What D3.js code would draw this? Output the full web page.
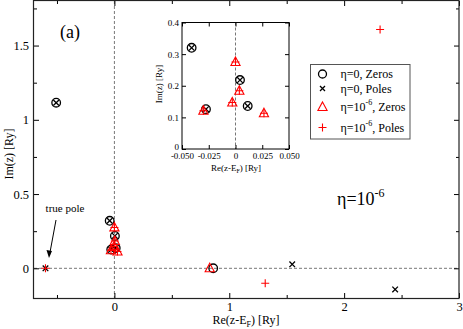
<!DOCTYPE html>
<html>
<head>
<meta charset="utf-8">
<script src="https://cdn.jsdelivr.net/npm/d3@7"></script>
<style>
  body { margin: 0; background: #fff; }
  text { font-family: "Liberation Serif", "DejaVu Serif", serif; fill: #000; }
</style>
</head>
<body>
<div id="chart"></div>
<script>
// eta=0 zeros (circles) and poles (x), eta=1e-6 zeros (triangles) and poles (+)
var zeros0 = [[-0.507, 1.115], [-0.041, 0.32], [-0.0276, 0.126], [0.0042, 0.218], [0.0114, 0.136], [0.86, 0]];
var poles0 = [[-0.507, 1.115], [-0.041, 0.32], [-0.0276, 0.126], [0.0042, 0.218], [0.0114, 0.136],
              [-0.6, 0], [1.548, 0.027], [2.444, -0.142]];
var zeros6 = [[0, 0.275], [0.0036, 0.184], [-0.003, 0.147], [-0.030, 0.121], [0.0266, 0.113], [0.83, 0]];
var poles6 = [[0, 0.275], [0.0036, 0.184], [-0.003, 0.147], [-0.030, 0.121], [0.0266, 0.113],
              [-0.6, 0], [1.313, -0.101], [2.313, 1.608]];

var xMajor = [0, 1, 2, 3], xMinor = [-0.5, 0.5, 1.5, 2.5];
var yMajor = [0, 0.5, 1, 1.5], yMinor = [0.25, 0.75, 1.25, 1.75];
var ixTicks = [-0.05, -0.025, 0, 0.025, 0.05];
var ixLabels = ["-0.050", "-0.025", "0", "0.025", "0.050"];
var iyTicks = [0, 0.1, 0.2, 0.3, 0.4];
var legendLabels = [["η=0, Zeros", ""], ["η=0, Poles", ""], ["η=10", "-6", ", Zeros"], ["η=10", "-6", ", Poles"]];

var width = 463, height = 329;
var svg = d3.select("#chart").append("svg")
    .attr("width", width)
    .attr("height", height);

var red = "#ff0000";

function crossPath(s) { return "M" + (-s) + "," + (-s) + "L" + s + "," + s + "M" + (-s) + "," + s + "L" + s + "," + (-s); }
function plusPath(s) { return "M" + (-s) + ",0L" + s + ",0M0," + (-s) + "L0," + s; }
function triPath(s) { return "M0," + (-s * 1.1) + "L" + s + "," + (s * 0.75) + "L" + (-s) + "," + (s * 0.75) + "Z"; }

function drawMarks(g, x, y, opt) {
  g.selectAll(".z0").data(zeros0.filter(opt.keep)).enter().append("circle")
      .attr("cx", d => x(d[0])).attr("cy", d => y(d[1])).attr("r", 4.3)
      .attr("fill", "none").attr("stroke", "#000").attr("stroke-width", 1.3);
  g.selectAll(".p0").data(poles0.filter(opt.keep)).enter().append("path")
      .attr("transform", d => "translate(" + x(d[0]) + "," + y(d[1]) + ")")
      .attr("d", crossPath(2.8))
      .attr("fill", "none").attr("stroke", "#000").attr("stroke-width", 1.3);
  g.selectAll(".z6").data(zeros6.filter(opt.keep)).enter().append("path")
      .attr("transform", d => "translate(" + x(d[0]) + "," + y(d[1]) + ")")
      .attr("d", triPath(4.6))
      .attr("fill", "none").attr("stroke", red).attr("stroke-width", 1.1);
  g.selectAll(".p6").data(poles6.filter(opt.keep)).enter().append("path")
      .attr("transform", d => "translate(" + x(d[0]) + "," + y(d[1]) + ")")
      .attr("d", plusPath(4))
      .attr("fill", "none").attr("stroke", red).attr("stroke-width", 1.1);
}

function styleTicks(sel) {
  sel.select(".domain").remove();
  sel.attr("font-family", null);
  sel.selectAll("line").attr("stroke", "#000");
  sel.selectAll("text").attr("fill", "#000");
}

// ---- main plot
var x = d3.scaleLinear().domain([-0.7, 3]).range([34, 459]);
var y = d3.scaleLinear().domain([-0.2, 1.8]).range([298, 1]);

var main = svg.append("g");

// dashed zero lines
main.append("line").attr("x1", x(0)).attr("x2", x(0)).attr("y1", y(1.8)).attr("y2", y(-0.2))
    .attr("stroke", "#777").attr("stroke-dasharray", "3,2");
main.append("line").attr("x1", x(-0.7)).attr("x2", x(3)).attr("y1", y(0)).attr("y2", y(0))
    .attr("stroke", "#777").attr("stroke-dasharray", "3,2");

main.append("g").attr("transform", "translate(0,298)")
    .call(d3.axisBottom(x).tickValues(xMajor).tickSize(-5).tickSizeOuter(0).tickPadding(4).tickFormat(d3.format("d")))
    .call(styleTicks).selectAll("text").style("font-size", "12.5px");
main.append("g").attr("transform", "translate(0,298)")
    .call(d3.axisBottom(x).tickValues(xMinor).tickSize(-3).tickSizeOuter(0).tickFormat(""))
    .call(styleTicks);
main.append("g").attr("transform", "translate(0,1)")
    .call(d3.axisTop(x).tickValues(xMajor).tickSize(-5).tickSizeOuter(0).tickFormat(""))
    .call(styleTicks);
main.append("g").attr("transform", "translate(0,1)")
    .call(d3.axisTop(x).tickValues(xMinor).tickSize(-3).tickSizeOuter(0).tickFormat(""))
    .call(styleTicks);
main.append("g").attr("transform", "translate(34,0)")
    .call(d3.axisLeft(y).tickValues(yMajor).tickSize(-5).tickSizeOuter(0).tickPadding(5).tickFormat(d => d === 0 ? "0" : String(d)))
    .call(styleTicks).selectAll("text").style("font-size", "12.5px");
main.append("g").attr("transform", "translate(34,0)")
    .call(d3.axisLeft(y).tickValues(yMinor).tickSize(-3).tickSizeOuter(0).tickFormat(""))
    .call(styleTicks);
main.append("g").attr("transform", "translate(459,0)")
    .call(d3.axisRight(y).tickValues(yMajor).tickSize(-5).tickSizeOuter(0).tickFormat(""))
    .call(styleTicks);
main.append("g").attr("transform", "translate(459,0)")
    .call(d3.axisRight(y).tickValues(yMinor).tickSize(-3).tickSizeOuter(0).tickFormat(""))
    .call(styleTicks);

main.append("rect").attr("x", 33.5).attr("y", 0.5).attr("width", 425.5).attr("height", 298)
    .attr("fill", "none").attr("stroke", "#222").attr("stroke-width", 1.2);

drawMarks(main.append("g"), x, y, { keep: () => true });

// axis titles
var xt = main.append("text").attr("x", 246).attr("y", 324).attr("text-anchor", "middle").style("font-size", "12px");
xt.append("tspan").text("Re(z-E");
xt.append("tspan").attr("dy", 3).style("font-size", "8px").text("F");
xt.append("tspan").attr("dy", -3).text(") [Ry]");
main.append("text").attr("transform", "translate(13,154) rotate(-90)").attr("text-anchor", "middle")
    .style("font-size", "12px").text("Im(z) [Ry]");

main.append("text").attr("x", 60).attr("y", 38).style("font-size", "18px").text("(a)");

var et = main.append("text").attr("x", 337).attr("y", 205).style("font-size", "18px");
et.append("tspan").text("η=10");
et.append("tspan").attr("dy", -8).style("font-size", "12px").text("-6");

// true pole annotation
main.append("text").attr("x", 65).attr("y", 212).attr("text-anchor", "middle").style("font-size", "11px").text("true pole");
main.append("line").attr("x1", 56).attr("y1", 220).attr("x2", 49.5).attr("y2", 255)
    .attr("stroke", "#000").attr("stroke-width", 1);
main.append("path").attr("d", "M49,258L46.5,250L52,251Z").attr("fill", "#000");

// ---- inset
var xi = d3.scaleLinear().domain([-0.05, 0.05]).range([182, 289]);
var yi = d3.scaleLinear().domain([0, 0.4]).range([149, 22.5]);
var inset = svg.append("g");
inset.append("rect").attr("x", 182).attr("y", 22.5).attr("width", 107).attr("height", 126.5).attr("fill", "#fff");
inset.append("line").attr("x1", xi(0)).attr("x2", xi(0)).attr("y1", yi(0.4)).attr("y2", yi(0))
    .attr("stroke", "#777").attr("stroke-dasharray", "3,2");

inset.append("g").attr("transform", "translate(0,149)")
    .call(d3.axisBottom(xi).tickValues(ixTicks).tickSize(-4).tickSizeOuter(0).tickPadding(4).tickFormat((d, i) => ixLabels[i]))
    .call(styleTicks).selectAll("text").style("font-size", "9px");
inset.append("g").attr("transform", "translate(0,22.5)")
    .call(d3.axisTop(xi).tickValues(ixTicks).tickSize(-4).tickSizeOuter(0).tickFormat(""))
    .call(styleTicks);
inset.append("g").attr("transform", "translate(182,0)")
    .call(d3.axisLeft(yi).tickValues(iyTicks).tickSize(-4).tickSizeOuter(0).tickPadding(3).tickFormat(d => d === 0 ? "0" : d3.format(".1f")(d)))
    .call(styleTicks).selectAll("text").style("font-size", "9px").attr("dy", (d, i) => i === 0 ? "0.1em" : "0.32em");
inset.append("g").attr("transform", "translate(289,0)")
    .call(d3.axisRight(yi).tickValues(iyTicks).tickSize(-4).tickSizeOuter(0).tickFormat(""))
    .call(styleTicks);
inset.append("rect").attr("x", 182).attr("y", 22.5).attr("width", 107).attr("height", 126.5)
    .attr("fill", "none").attr("stroke", "#000").attr("stroke-width", 1);

drawMarks(inset.append("g"), xi, yi, { keep: d => Math.abs(d[0]) <= 0.05 && d[1] > 0 });

var ixt = inset.append("text").attr("x", 236).attr("y", 171).attr("text-anchor", "middle").style("font-size", "9px");
ixt.append("tspan").text("Re(z-E");
ixt.append("tspan").attr("dy", 2).style("font-size", "6px").text("F");
ixt.append("tspan").attr("dy", -2).text(") [Ry]");
inset.append("text").attr("transform", "translate(162,84) rotate(-90)").attr("text-anchor", "middle")
    .style("font-size", "9px").text("Im(z) [Ry]");

// ---- legend
var leg = svg.append("g");
leg.append("rect").attr("x", 310.5).attr("y", 64.5).attr("width", 99.5).attr("height", 74.5)
    .attr("fill", "#fff").attr("stroke", "#555").attr("stroke-width", 1);
var rowY = [74, 88.5, 107, 127.5];
var legPaths = [null, crossPath(2.5), triPath(4.6), plusPath(4)];
legendLabels.forEach(function(lab, i) {
  var g = leg.append("g").attr("transform", "translate(322.5," + rowY[i] + ")");
  if (i === 0) {
    g.append("circle").attr("r", 4).attr("fill", "none").attr("stroke", "#000").attr("stroke-width", 1.3);
  } else {
    g.append("path").attr("d", legPaths[i]).attr("fill", "none")
        .attr("stroke", i < 2 ? "#000" : red).attr("stroke-width", i < 2 ? 1.3 : 1.1);
  }
  var t = leg.append("text").attr("x", 340.5).attr("y", rowY[i] + 4).style("font-size", "12px");
  t.append("tspan").text(lab[0]);
  if (lab.length > 2) {
    t.append("tspan").attr("dy", -6).style("font-size", "8px").text(lab[1]);
    t.append("tspan").attr("dy", 6).text(lab[2]);
  }
});
</script>
</body>
</html>
